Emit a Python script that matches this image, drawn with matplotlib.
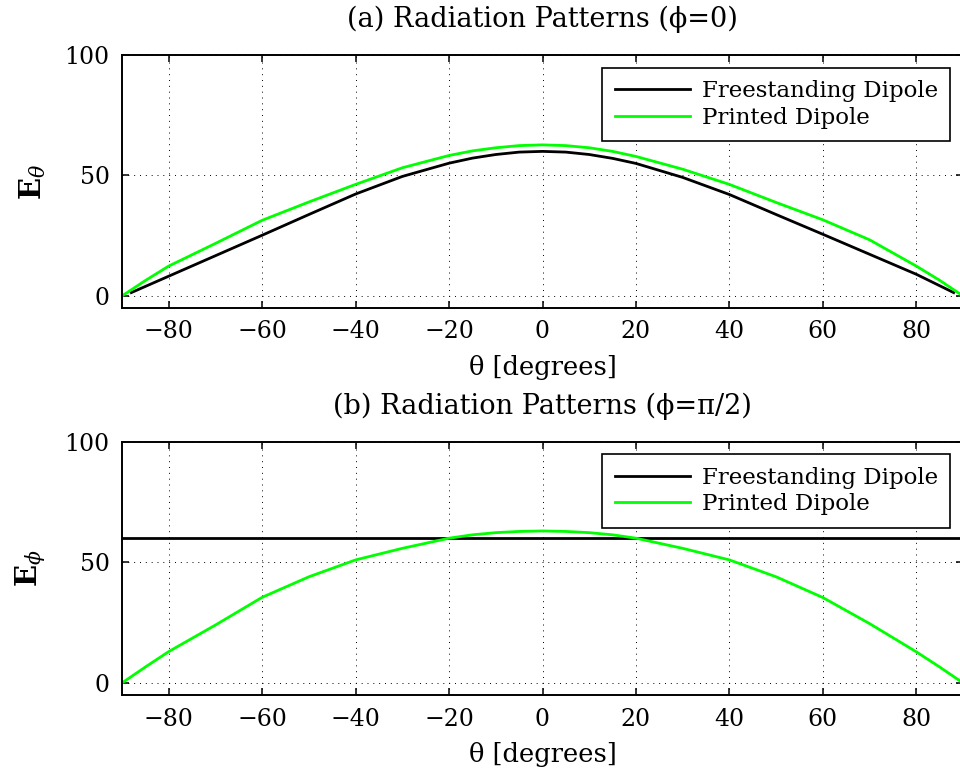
import matplotlib
matplotlib.use("Agg")
import matplotlib.pyplot as plt

plt.rcParams['font.family'] = ['DejaVu Serif']
plt.rcParams['mathtext.fontset'] = 'dejavuserif'

# ---- data ----
theta_free_a = [-88, -80, -70, -60, -50, -40, -30, -20, -15, -10, -5, 0,
                5, 10, 15, 20, 30, 40, 50, 60, 70, 80, 88]
free_a = [1.4, 8.2, 16.7, 25.2, 33.8, 42.3, 49.6, 55.1, 57.2, 58.7, 59.7, 60.0,
          59.7, 58.7, 57.1, 55.0, 49.2, 42.1, 33.8, 25.6, 17.3, 9.0, 1.4]

theta_print = [-90, -85, -80, -70, -60, -50, -40, -30, -20, -15, -10, -5, 0,
               5, 10, 15, 20, 30, 40, 50, 60, 70, 80, 85, 90]
print_a = [0.0, 6.4, 12.4, 21.8, 31.4, 39.0, 46.3, 53.2, 58.3, 60.2, 61.5, 62.4, 62.7,
           62.4, 61.5, 60.0, 57.9, 52.6, 46.3, 38.8, 31.6, 23.3, 12.4, 6.5, 0.0]

theta_free_b = [-90, 90]
free_b = [60.0, 60.0]

print_b = [0.0, 6.6, 13.0, 24.0, 35.5, 44.0, 51.0, 55.8, 60.0, 61.4, 62.3, 62.8, 63.0,
           62.8, 62.3, 61.4, 60.0, 55.8, 51.0, 44.0, 35.4, 24.6, 12.9, 6.6, 0.0]

xticks = [-80, -60, -40, -20, 0, 20, 40, 60, 80]
yticks = [0, 50, 100]
titles = ["(a) Radiation Patterns (\u03d5=0)", "(b) Radiation Patterns (\u03d5=\u03c0/2)"]
ylabels = [r"$\mathbf{E}_{\theta}$", r"$\mathbf{E}_{\phi}$"]
xlabel = "\u03b8 [degrees]"
legend_labels = ["Freestanding Dipole", "Printed Dipole"]

FS = 17
fig = plt.figure(figsize=(9.6, 7.72), dpi=100)
ax1 = fig.add_axes([122/960, 1-308/772, 841/960, 253/772])
ax2 = fig.add_axes([122/960, 1-695/772, 841/960, 253.3/772])

series = [
    (theta_free_a, free_a, theta_print, print_a),
    (theta_free_b, free_b, theta_print, print_b),
]

for ax, (tf, vf, tp, vp), title, ylab in zip([ax1, ax2], series, titles, ylabels):
    ax.plot(tf, vf, color='black', lw=2.0, label=legend_labels[0])
    ax.plot(tp, vp, color='#00ff00', lw=2.0, label=legend_labels[1])
    ax.set_xlim(-90, 90)
    ax.set_ylim(-5, 100)
    ax.set_xticks(xticks)
    ax.set_yticks(yticks)
    ax.tick_params(direction='in', top=True, right=True, length=5, width=1.1,
                   labelsize=FS, pad=9)
    ax.grid(True, color='black', linestyle=(0, (1, 5)), linewidth=0.7)
    for s in ax.spines.values():
        s.set_linewidth(1.4)
    ax.set_title(title, fontsize=19.5, pad=20)
    ax.set_xlabel(xlabel, fontsize=18.5, labelpad=8)
    ax.set_ylabel(ylab, fontsize=FS + 4, labelpad=12)
    leg = ax.legend(loc='upper right', fontsize=16.5, fancybox=False,
                    edgecolor='black', framealpha=1, borderaxespad=0.55,
                    handlelength=3.3, handletextpad=0.5, labelspacing=0.2,
                    borderpad=0.55)
    leg.get_frame().set_linewidth(1.2)

fig.savefig("out.png", dpi=100)
